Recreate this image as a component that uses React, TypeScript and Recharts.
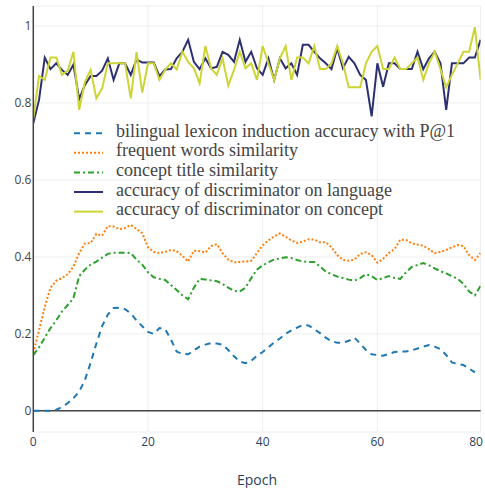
import React from 'react';
import { LineChart, Line, XAxis, YAxis, CartesianGrid, ReferenceLine, Legend } from 'recharts';

const epochs = [
  0, 1, 2, 3, 4, 5, 6, 7, 8, 9,
  10, 11, 12, 13, 14, 15, 16, 17, 18, 19,
  20, 21, 22, 23, 24, 25, 26, 27, 28, 29,
  30, 31, 32, 33, 34, 35, 36, 37, 38, 39,
  40, 41, 42, 43, 44, 45, 46, 47, 48, 49,
  50, 51, 52, 53, 54, 55, 56, 57, 58, 59,
  60, 61, 62, 63, 64, 65, 66, 67, 68, 69,
  70, 71, 72, 73, 74, 75, 76, 77, 78,
];

const bilingualLexicon = [
  0, 0, 0, 0, 0.003, 0.01, 0.02, 0.033, 0.05, 0.08,
  0.125, 0.175, 0.22, 0.25, 0.267, 0.268, 0.264, 0.253, 0.235, 0.22,
  0.205, 0.2, 0.215, 0.212, 0.185, 0.154, 0.148, 0.147, 0.157, 0.167,
  0.172, 0.176, 0.175, 0.172, 0.158, 0.142, 0.128, 0.124, 0.13, 0.143,
  0.153, 0.165, 0.178, 0.188, 0.2, 0.209, 0.216, 0.223, 0.222, 0.212,
  0.202, 0.19, 0.181, 0.177, 0.177, 0.182, 0.19, 0.175, 0.158, 0.147,
  0.145, 0.143, 0.148, 0.153, 0.154, 0.154, 0.157, 0.162, 0.167, 0.171,
  0.167, 0.16, 0.145, 0.126, 0.122, 0.119, 0.11, 0.1, null,
];

const frequentWords = [
  0.15, 0.21, 0.27, 0.32, 0.338, 0.345, 0.355, 0.375, 0.41, 0.435,
  0.436, 0.46, 0.455, 0.48, 0.479, 0.472, 0.475, 0.483, 0.472, 0.462,
  0.425, 0.413, 0.41, 0.413, 0.418, 0.415, 0.403, 0.388, 0.416, 0.415,
  0.411, 0.428, 0.433, 0.41, 0.393, 0.386, 0.387, 0.388, 0.39, 0.41,
  0.43, 0.443, 0.453, 0.461, 0.452, 0.443, 0.436, 0.44, 0.446, 0.445,
  0.438, 0.438, 0.425, 0.405, 0.392, 0.39, 0.393, 0.408, 0.412, 0.405,
  0.385, 0.395, 0.41, 0.42, 0.445, 0.444, 0.435, 0.432, 0.429, 0.42,
  0.41, 0.413, 0.418, 0.425, 0.431, 0.428, 0.405, 0.392, 0.41,
];

const conceptTitle = [
  0.145, 0.165, 0.19, 0.215, 0.235, 0.258, 0.275, 0.293, 0.35, 0.367,
  0.38, 0.388, 0.398, 0.408, 0.411, 0.411, 0.411, 0.41, 0.393, 0.38,
  0.36, 0.347, 0.343, 0.34, 0.327, 0.314, 0.3, 0.29, 0.32, 0.343,
  0.341, 0.339, 0.337, 0.33, 0.32, 0.312, 0.31, 0.32, 0.345, 0.367,
  0.378, 0.386, 0.393, 0.396, 0.399, 0.397, 0.392, 0.388, 0.387, 0.387,
  0.375, 0.362, 0.355, 0.349, 0.345, 0.341, 0.338, 0.345, 0.355, 0.35,
  0.34, 0.345, 0.35, 0.345, 0.343, 0.36, 0.374, 0.379, 0.384, 0.378,
  0.37, 0.363, 0.357, 0.35, 0.343, 0.33, 0.31, 0.3, 0.325,
];

const discLanguage = [
  0.747, 0.808, 0.918, 0.888, 0.903, 0.886, 0.873, 0.9, 0.81, 0.847,
  0.87, 0.87, 0.884, 0.916, 0.86, 0.903, 0.903, 0.873, 0.913, 0.905,
  0.905, 0.905, 0.87, 0.887, 0.888, 0.916, 0.933, 0.964, 0.907, 0.888,
  0.916, 0.89, 0.894, 0.933, 0.925, 0.907, 0.964, 0.907, 0.933, 0.89,
  0.873, 0.916, 0.86, 0.916, 0.89, 0.903, 0.873, 0.951, 0.951, 0.933,
  0.916, 0.903, 0.888, 0.942, 0.89, 0.92, 0.903, 0.873, 0.86, 0.765,
  0.903, 0.842, 0.903, 0.903, 0.888, 0.888, 0.888, 0.933, 0.888, 0.916,
  0.933, 0.903, 0.782, 0.903, 0.903, 0.903, 0.918, 0.918, 0.964,
];

const discConcept = [
  0.76, 0.87, 0.86, 0.918, 0.918, 0.873, 0.884, 0.933, 0.782, 0.855,
  0.886, 0.812, 0.838, 0.903, 0.903, 0.903, 0.903, 0.812, 0.932, 0.827,
  0.903, 0.903, 0.86, 0.886, 0.903, 0.887, 0.933, 0.907, 0.89, 0.851,
  0.948, 0.89, 0.873, 0.916, 0.845, 0.886, 0.933, 0.89, 0.903, 0.86,
  0.948, 0.903, 0.86, 0.916, 0.948, 0.86, 0.918, 0.918, 0.903, 0.948,
  0.888, 0.888, 0.903, 0.948, 0.903, 0.841, 0.841, 0.841, 0.903, 0.933,
  0.948, 0.888, 0.888, 0.918, 0.888, 0.888, 0.903, 0.918, 0.86, 0.903,
  0.933, 0.888, 0.841, 0.873, 0.903, 0.933, 0.933, 0.997, 0.86,
];

const seriesNames = [
  'bilingual lexicon induction accuracy with P@1',
  'frequent words similarity',
  'concept title similarity',
  'accuracy of discriminator on language',
  'accuracy of discriminator on concept',
];
const seriesKeys = ['blue', 'orange', 'green', 'navy', 'yellow'];
const seriesColors = ['#1f77b4', '#ff7f0e', '#2ca02c', '#2d3070', '#cdd534'];
const seriesDash = ['6 5', '2 2', '6 3 2 3', undefined, undefined];

const xTicks = [0, 20, 40, 60, 80];
const yTicks = [0, 0.2, 0.4, 0.6, 0.8, 1];
const xTitle = 'Epoch';

const seriesValues = [bilingualLexicon, frequentWords, conceptTitle, discLanguage, discConcept];
const data = epochs.map((e, i) => {
  const row: Record<string, number | null> = { epoch: e };
  seriesKeys.forEach((k, j) => {
    row[k] = seriesValues[j][i];
  });
  return row;
});

const W = 485;
const H = 488;

const XTick = (props: any) => {
  const { x, y, payload } = props;
  return (
    <text
      x={Math.min(x, 476)}
      y={y + 9.7}
      dy="0.35em"
      textAnchor="middle"
      fontFamily="'Open Sans', sans-serif"
      fontSize={12}
      fill="#2a3f5f"
    >
      {String(payload.value)}
    </text>
  );
};

const YTick = (props: any) => {
  const { x, y, payload } = props;
  return (
    <text
      x={x - 2}
      y={y}
      dy="0.35em"
      textAnchor="end"
      fontFamily="'Open Sans', sans-serif"
      fontSize={12}
      fill="#444"
    >
      {String(payload.value)}
    </text>
  );
};

const renderLegend = () => (
  <svg width={W} height={H} style={{ position: 'absolute', left: 0, top: 0 }}>
    {seriesNames.map((name, i) => {
      const base = 136.7 + i * 19.6;
      return (
        <g key={name}>
          <line
            x1={74}
            x2={103}
            y1={base - 3.5}
            y2={base - 3.5}
            stroke={seriesColors[i]}
            strokeWidth={2}
            strokeDasharray={seriesDash[i]}
          />
          <text
            x={116}
            y={base}
            fontFamily="'Liberation Serif', 'Times New Roman', serif"
            fontSize={18}
            fill="#444"
          >
            {name}
          </text>
        </g>
      );
    })}
  </svg>
);

const TitleLabel = (props: any) => {
  const { viewBox } = props;
  return (
    <text
      x={viewBox.x + viewBox.width / 2}
      y={viewBox.y + 48}
      dy="0.35em"
      textAnchor="middle"
      fontFamily="'Open Sans', sans-serif"
      fontSize={14}
      fill="#2a3f5f"
    >
      {xTitle}
    </text>
  );
};

export default function App() {
  return (
    <div style={{ position: 'absolute', left: 0, top: 0, width: W, height: H, background: '#fff' }}>
      <LineChart width={W} height={H} data={data} margin={{ top: 6, right: 4.4, bottom: 0, left: 0 }}>
        <CartesianGrid stroke="#eee" strokeWidth={1} />
        <XAxis
          dataKey="epoch"
          type="number"
          domain={[0, 78]}
          allowDataOverflow
          ticks={xTicks}
          interval={0}
          height={56}
          axisLine={false}
          tickLine={false}
          tickSize={0}
          tickMargin={0}
          tick={<XTick />}
          label={<TitleLabel />}
        />
        <YAxis
          type="number"
          domain={[-0.055, 1.052]}
          allowDataOverflow
          ticks={yTicks}
          interval={0}
          width={33.3}
          axisLine={{ stroke: '#444', strokeWidth: 1.5 }}
          tickLine={false}
          tickSize={0}
          tickMargin={0}
          tick={<YTick />}
        />
        <ReferenceLine y={0} stroke="#444" strokeWidth={1.5} />
        {seriesKeys.map((k, i) => (
          <Line
            key={k}
            type="linear"
            dataKey={k}
            name={seriesNames[i]}
            stroke={seriesColors[i]}
            strokeWidth={2}
            strokeDasharray={seriesDash[i]}
            dot={false}
            activeDot={false}
            isAnimationActive={false}
          />
        ))}
        <Legend
          layout="horizontal"
          verticalAlign="middle"
          align="center"
          content={renderLegend}
          wrapperStyle={{ position: 'absolute', left: 0, top: 0, width: W, height: H, pointerEvents: 'none' }}
        />
      </LineChart>
    </div>
  );
}
